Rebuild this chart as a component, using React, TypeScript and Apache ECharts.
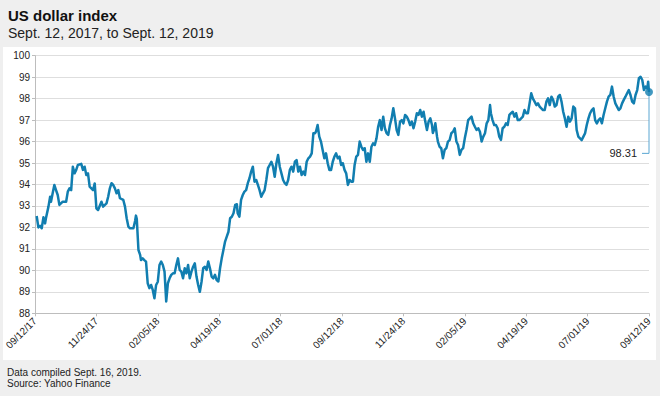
import React, { useEffect, useRef } from "react";
import * as echarts from "echarts";

// Days since Sept. 12, 2017
const dayOffsets = [
  2, 4, 6, 8, 10, 12, 13, 16, 18, 19, 21, 23, 25, 27, 29, 33, 37, 39, 41, 43, 45, 47, 49, 51, 55, 57, 59, 61, 63, 65, 69, 71, 73, 75, 79, 81, 85, 87, 89, 91, 93, 95, 97, 99, 101, 105, 107, 109, 111, 113, 117, 119, 120, 121,
  123, 125, 126, 128, 130, 132, 134, 136, 138, 140, 142, 144, 146, 148, 150, 152, 154, 156, 158, 160, 162, 164, 166, 168, 170, 172, 174, 176, 178, 180, 182, 184, 186, 188, 190, 192, 194, 196, 198, 200, 202, 204, 206, 208, 210, 212, 214, 216, 218, 220, 222, 224, 226, 228, 230, 232, 234, 236, 238, 240, 241,
  243, 245, 247, 249, 251, 253, 255, 257, 259, 261, 263, 265, 267, 269, 271, 273, 275, 277, 279, 281, 283, 285, 287, 289, 291, 293, 295, 297, 299, 301, 303, 305, 307, 309, 311, 313, 315, 317, 319, 321, 323, 325, 327, 329, 331, 333, 334, 336, 338, 340, 342, 344, 346, 348, 350, 352, 354, 356, 358, 360,
  362, 364, 366, 368, 370, 372, 374, 376, 378, 380, 382, 384, 386, 388, 390, 392, 394, 396, 398, 400, 402, 404, 406, 408, 410, 412, 414, 416, 418, 420, 422, 424, 426, 428, 430, 432, 434, 436, 438, 440, 442, 444, 446, 448, 450, 452, 454, 456, 458, 460, 462, 464, 466, 468, 470, 472, 473, 475,
  476, 478, 479, 481, 483, 485, 487, 489, 491, 493, 495, 497, 499, 501, 503, 505, 507, 509, 511, 513, 515, 517, 519, 521, 523, 525, 527, 529, 531, 533, 535, 537, 539, 541, 542, 544, 546, 548, 550, 552, 554, 556, 558, 560, 562, 564, 566, 568, 570, 572, 574, 576, 578, 580, 582, 584, 586, 588, 590, 592, 594, 596, 598, 600, 602, 604,
  606, 608, 610, 612, 614, 616, 618, 620, 622, 624, 626, 628, 630, 632, 634, 636, 638, 640, 642, 644, 646, 648, 650, 652, 654, 656, 658, 660, 662, 664, 666, 668, 670, 672, 674, 676, 678, 680, 682, 684, 686, 688, 690, 692, 694, 696, 698, 700, 702, 704, 706, 708, 710, 712, 714, 716, 718, 720, 722, 724, 726, 728, 729, 730,
];

const indexValues = [
  92.53, 92.0, 92.07, 91.96, 92.47, 92.19, 92.43, 92.97, 93.43, 93.2, 93.59, 93.98, 93.74, 93.51, 93.05, 93.2, 93.2, 93.67, 93.82, 93.74, 94.83, 94.52, 94.68, 94.91, 94.96, 94.68, 94.83, 94.44, 94.52, 93.9, 93.74, 94.05, 92.89, 92.81, 93.2, 92.97, 93.12, 93.43, 93.82, 94.06, 93.98, 93.82, 93.59, 93.74, 93.36, 93.28, 92.97, 92.43, 92.04, 91.96, 91.96, 92.3, 92.55, 92.4,
  90.95, 90.72, 90.48, 90.56, 90.48, 90.41, 89.4, 89.17, 89.32, 89.09, 88.7, 89.32, 89.47, 90.25, 90.41, 90.25, 89.94, 88.55, 89.4, 89.63, 89.79, 89.86, 89.86, 90.25, 90.56, 90.02, 89.94, 89.63, 90.1, 89.86, 90.25, 89.63, 89.94, 90.17, 90.33, 89.71, 89.32, 89.0, 89.47, 90.1, 90.17, 90.02, 90.41, 90.1, 89.71, 89.63, 89.79, 89.55, 89.48, 90.1, 90.56, 90.95, 91.34, 91.57, 91.8, 92.43, 92.5, 92.66, 93.05, 93.08, 92.66,
  92.5, 93.28, 93.51, 93.67, 93.74, 94.06, 94.29, 94.6, 94.83, 94.13, 94.21, 93.98, 93.74, 93.43, 93.59, 93.74, 94.21, 94.76, 94.91, 95.06, 94.83, 94.36, 94.99, 95.37, 94.83, 94.52, 94.21, 94.06, 93.98, 94.21, 94.68, 94.83, 94.6, 95.06, 95.14, 94.6, 94.83, 94.44, 94.6, 94.44, 95.06, 95.22, 95.3, 95.45, 96.39, 96.39, 96.46, 96.77, 96.23, 96.0, 95.61, 95.22, 95.45, 94.99, 94.68, 94.68, 95.06, 95.3, 95.45, 95.22,
  95.3, 94.91, 94.99, 94.68, 94.52, 93.98, 94.21, 94.13, 94.13, 94.91, 95.3, 95.38, 96.0, 95.76, 95.61, 95.69, 95.06, 95.45, 95.06, 95.76, 95.92, 95.84, 96.15, 96.69, 97.0, 96.54, 97.16, 96.62, 96.39, 96.31, 96.77, 97.08, 97.55, 97.08, 96.54, 96.31, 96.93, 97.0, 96.85, 97.24, 97.16, 97.0, 96.77, 96.93, 96.62, 96.93, 97.32, 97.24, 97.47, 97.16, 97.39, 96.93, 96.54, 96.93, 97.08, 96.77, 96.4, 96.62,
  96.85, 96.23, 96.0, 95.76, 95.69, 95.22, 95.61, 95.69, 96.0, 96.07, 96.39, 96.46, 96.62, 96.0, 95.84, 95.38, 95.61, 95.69, 96.15, 96.54, 97.0, 97.08, 97.16, 96.85, 96.69, 96.54, 96.62, 96.46, 96.0, 96.23, 96.39, 96.85, 97.0, 97.7, 97.32, 97.0, 96.77, 96.77, 96.62, 96.23, 96.08, 96.62, 96.69, 96.85, 96.77, 97.24, 97.32, 97.39, 97.16, 97.32, 97.0, 97.0, 97.08, 97.16, 97.47, 97.32, 97.32, 97.78, 98.25, 98.0, 97.86, 97.7, 97.78, 97.63, 97.55, 97.47,
  97.47, 97.86, 98.01, 97.7, 98.09, 97.94, 97.63, 97.7, 98.09, 98.17, 97.86, 97.39, 97.08, 96.69, 97.16, 96.93, 97.08, 97.63, 97.55, 96.54, 96.23, 96.15, 96.07, 96.23, 96.39, 96.77, 97.08, 97.32, 97.47, 97.55, 97.0, 96.85, 97.0, 97.08, 96.85, 97.24, 97.55, 97.86, 98.09, 98.17, 98.56, 98.09, 97.78, 97.63, 97.47, 97.55, 97.78, 97.94, 98.09, 98.25, 98.4, 98.17, 97.86, 97.78, 98.17, 98.4, 98.95, 99.02, 98.87, 98.4, 98.56, 98.48, 98.79, 98.31,
];

const startDateUTC = Date.UTC(2017, 8, 12);
const xTickDays = 73;
const xMaxDays = 730;
const yMin = 88;
const yMax = 100;
const yStep = 1;
const leaderLowValue = 95.45;
const lastLabel = "98.31";

const titleText = "US dollar index";
const subtitleText = "Sept. 12, 2017, to Sept. 12, 2019";
const noteText = "Data compiled Sept. 16, 2019.";
const sourceText = "Source: Yahoo Finance";

const LINE = "#117eb0";
const FONT = "'Liberation Sans', Arial, sans-serif";

function fmtDate(days: number): string {
  const d = new Date(startDateUTC + Math.round(days) * 86400000);
  const mm = String(d.getUTCMonth() + 1).padStart(2, "0");
  const dd = String(d.getUTCDate()).padStart(2, "0");
  const yy = String(d.getUTCFullYear() % 100).padStart(2, "0");
  return `${mm}/${dd}/${yy}`;
}

export default function App() {
  const ref = useRef<HTMLDivElement>(null);
  useEffect(() => {
    document.body.style.margin = "0";
    const chart = echarts.init(ref.current!, null, { renderer: "svg" });
    const data = dayOffsets.map((d, i) => [d, indexValues[i]]);
    const last = data[data.length - 1];
    chart.setOption({
      animation: false,
      backgroundColor: "transparent",
      grid: { left: 35, right: 11, top: 55.7, bottom: 82.7, containLabel: false },
      xAxis: {
        type: "value",
        min: 0,
        max: xMaxDays,
        interval: xTickDays,
        axisLine: { show: true, lineStyle: { color: "#bdbdbd", width: 1 } },
        axisTick: { show: true, length: 3, lineStyle: { color: "#bdbdbd" } },
        splitLine: { show: false },
        axisLabel: {
          rotate: 45,
          margin: 6,
          fontSize: 10,
          fontFamily: FONT,
          color: "#222",
          formatter: (v: number) => fmtDate(v),
        },
      },
      yAxis: {
        type: "value",
        min: yMin,
        max: yMax,
        interval: yStep,
        axisLine: { show: true, lineStyle: { color: "#bdbdbd", width: 1 } },
        axisTick: { show: true, length: 3, lineStyle: { color: "#bdbdbd" } },
        splitLine: { show: true, lineStyle: { color: "#dedede", width: 1 } },
        axisLabel: { fontSize: 10, fontFamily: FONT, color: "#222", margin: 5 },
      },
      series: [
        {
          type: "line",
          data,
          showSymbol: false,
          symbol: "none",
          lineStyle: { color: LINE, width: 2.5, join: "round" },
          z: 3,
        },
        {
          type: "scatter",
          data: [last],
          symbol: "circle",
          symbolSize: 8,
          itemStyle: { color: LINE },
          z: 4,
        },
      ],
      graphic: [
        { type: "text", style: { text: titleText, x: 8, y: 15, font: `bold 15px ${FONT}`, fill: "#111", verticalAlign: "middle", textVerticalAlign: "middle" } },
        { type: "text", style: { text: subtitleText, x: 8, y: 32.5, font: `14px ${FONT}`, fill: "#222", verticalAlign: "middle", textVerticalAlign: "middle" } },
        { type: "text", style: { text: noteText, x: 7, y: 372, font: `10px ${FONT}`, fill: "#222", verticalAlign: "middle", textVerticalAlign: "middle" } },
        { type: "text", style: { text: sourceText, x: 7, y: 383, font: `10px ${FONT}`, fill: "#222", verticalAlign: "middle", textVerticalAlign: "middle" } },
      ],
    });
    const pTop = chart.convertToPixel({ gridIndex: 0 }, last) as number[];
    const pLow = chart.convertToPixel({ gridIndex: 0 }, [last[0], leaderLowValue]) as number[];
    chart.setOption({
      graphic: [
        { type: "text", style: { text: titleText, x: 8, y: 15, font: `bold 15px ${FONT}`, fill: "#111", verticalAlign: "middle", textVerticalAlign: "middle" } },
        { type: "text", style: { text: subtitleText, x: 8, y: 32.5, font: `14px ${FONT}`, fill: "#222", verticalAlign: "middle", textVerticalAlign: "middle" } },
        { type: "text", style: { text: noteText, x: 7, y: 372, font: `10px ${FONT}`, fill: "#222", verticalAlign: "middle", textVerticalAlign: "middle" } },
        { type: "text", style: { text: sourceText, x: 7, y: 383, font: `10px ${FONT}`, fill: "#222", verticalAlign: "middle", textVerticalAlign: "middle" } },
        {
          type: "polyline",
          z: 2,
          shape: { points: [[pTop[0], pTop[1]], [pLow[0], pLow[1]], [pLow[0] - 7, pLow[1]]] },
          style: { stroke: "#5aa6d2", lineWidth: 1, fill: null },
        },
        {
          type: "text",
          style: { text: lastLabel, x: pLow[0] - 12, y: pLow[1], font: `11px ${FONT}`, fill: "#222", align: "right", textAlign: "right", verticalAlign: "middle", textVerticalAlign: "middle" },
        },
      ],
    });
    return () => chart.dispose();
  }, []);
  return (
    <div style={{ position: "relative", width: 660, height: 396, background: "#efefef", overflow: "hidden" }}>
      <div style={{ position: "absolute", left: 3, top: 47, width: 653, height: 313, background: "#ffffff" }} />
      <div ref={ref} style={{ position: "absolute", left: 0, top: 0, width: 660, height: 396 }} />
    </div>
  );
}
